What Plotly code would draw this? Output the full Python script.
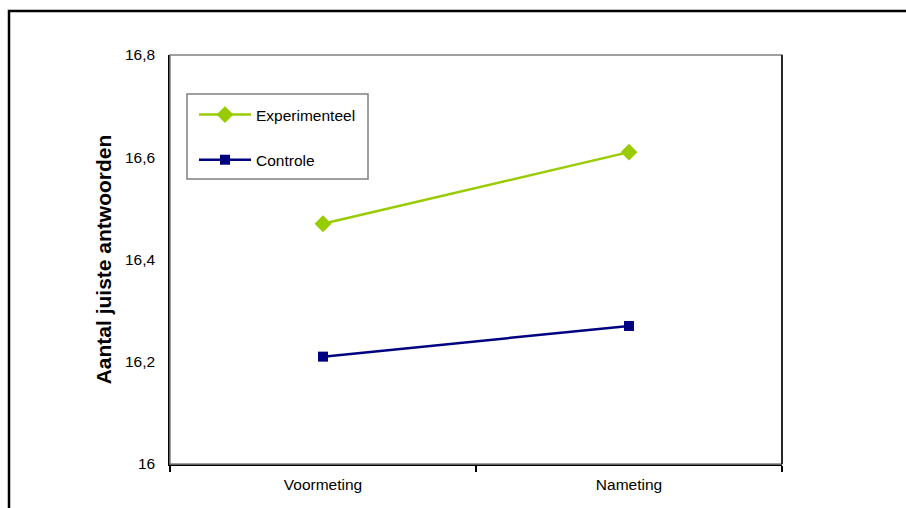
import plotly.graph_objects as go

# Measurement moments and mean number of correct answers per group
metingen = ["Voormeting", "Nameting"]
experimenteel = [16.47, 16.61]
controle = [16.21, 16.27]

y_ticks = [16.0, 16.2, 16.4, 16.6, 16.8]

W, H = 906, 508
L, R, T, B = 170, 124, 55, 44
PW, PH = W - L - R, H - T - B


def px_x(x):
    return (x - L) / PW


def px_y(y):
    return (H - B - y) / PH


FONT = "Arial, Liberation Sans, sans-serif"

fig = go.Figure()
fig.add_trace(go.Scatter(
    x=metingen, y=experimenteel, name="Experimenteel", mode="lines+markers",
    line=dict(color="#99CC00", width=2.5),
    marker=dict(symbol="diamond", size=13, color="#99CC00"),
    legendgroup="a",
))
fig.add_trace(go.Scatter(
    x=metingen, y=controle, name="Controle", mode="lines+markers",
    line=dict(color="#000080", width=2.5),
    marker=dict(symbol="square", size=10, color="#000080"),
    legendgroup="b",
))

shapes = [
    # outer chart frame
    dict(type="rect", xref="paper", yref="paper",
         x0=px_x(9), x1=px_x(915), y0=px_y(11), y1=px_y(520),
         line=dict(color="black", width=2.5), layer="below"),
    # plot area border
    dict(type="rect", xref="paper", yref="paper",
         x0=0, x1=1, y0=0, y1=1, line=dict(color="#808080", width=1.5)),
    dict(type="line", xref="paper", yref="paper",
         x0=1, x1=1, y0=0, y1=1, line=dict(color="black", width=1.5)),
    # legend box
    dict(type="rect", xref="paper", yref="paper",
         x0=px_x(187), x1=px_x(368), y0=px_y(94), y1=px_y(179),
         line=dict(color="#808080", width=1.5), fillcolor="white"),
]

fig.update_layout(
    width=W, height=H,
    margin=dict(l=L, r=R, t=T, b=B),
    paper_bgcolor="white", plot_bgcolor="white",
    font=dict(family=FONT, size=15.5, color="black"),
    separators=",.",
    showlegend=True,
    legend=dict(
        x=px_x(194), y=px_y(98), xanchor="left", yanchor="top",
        bgcolor="rgba(0,0,0,0)", borderwidth=0,
        tracegroupgap=22, itemwidth=52,
        font=dict(family=FONT, size=15.5, color="black"),
    ),
    shapes=shapes,
    xaxis=dict(
        type="category", tickson="boundaries", ticks="outside", ticklen=6,
        tickcolor="black", tickwidth=1.5,
        showline=True, linecolor="black", linewidth=1.5,
        showgrid=False, zeroline=False, range=[-0.5, 1.5],
        ticklabelstandoff=6,
    ),
    yaxis=dict(
        range=[16.0, 16.8], tickvals=y_ticks, ticks="",
        showline=True, linecolor="black", linewidth=1.5,
        showgrid=False, zeroline=False, ticklabelstandoff=10,
        title=dict(text="Aantal juiste antwoorden",
                   font=dict(family=FONT, size=21, color="black", weight="bold"),
                   standoff=8),
    ),
)

fig.write_html("out.html")
